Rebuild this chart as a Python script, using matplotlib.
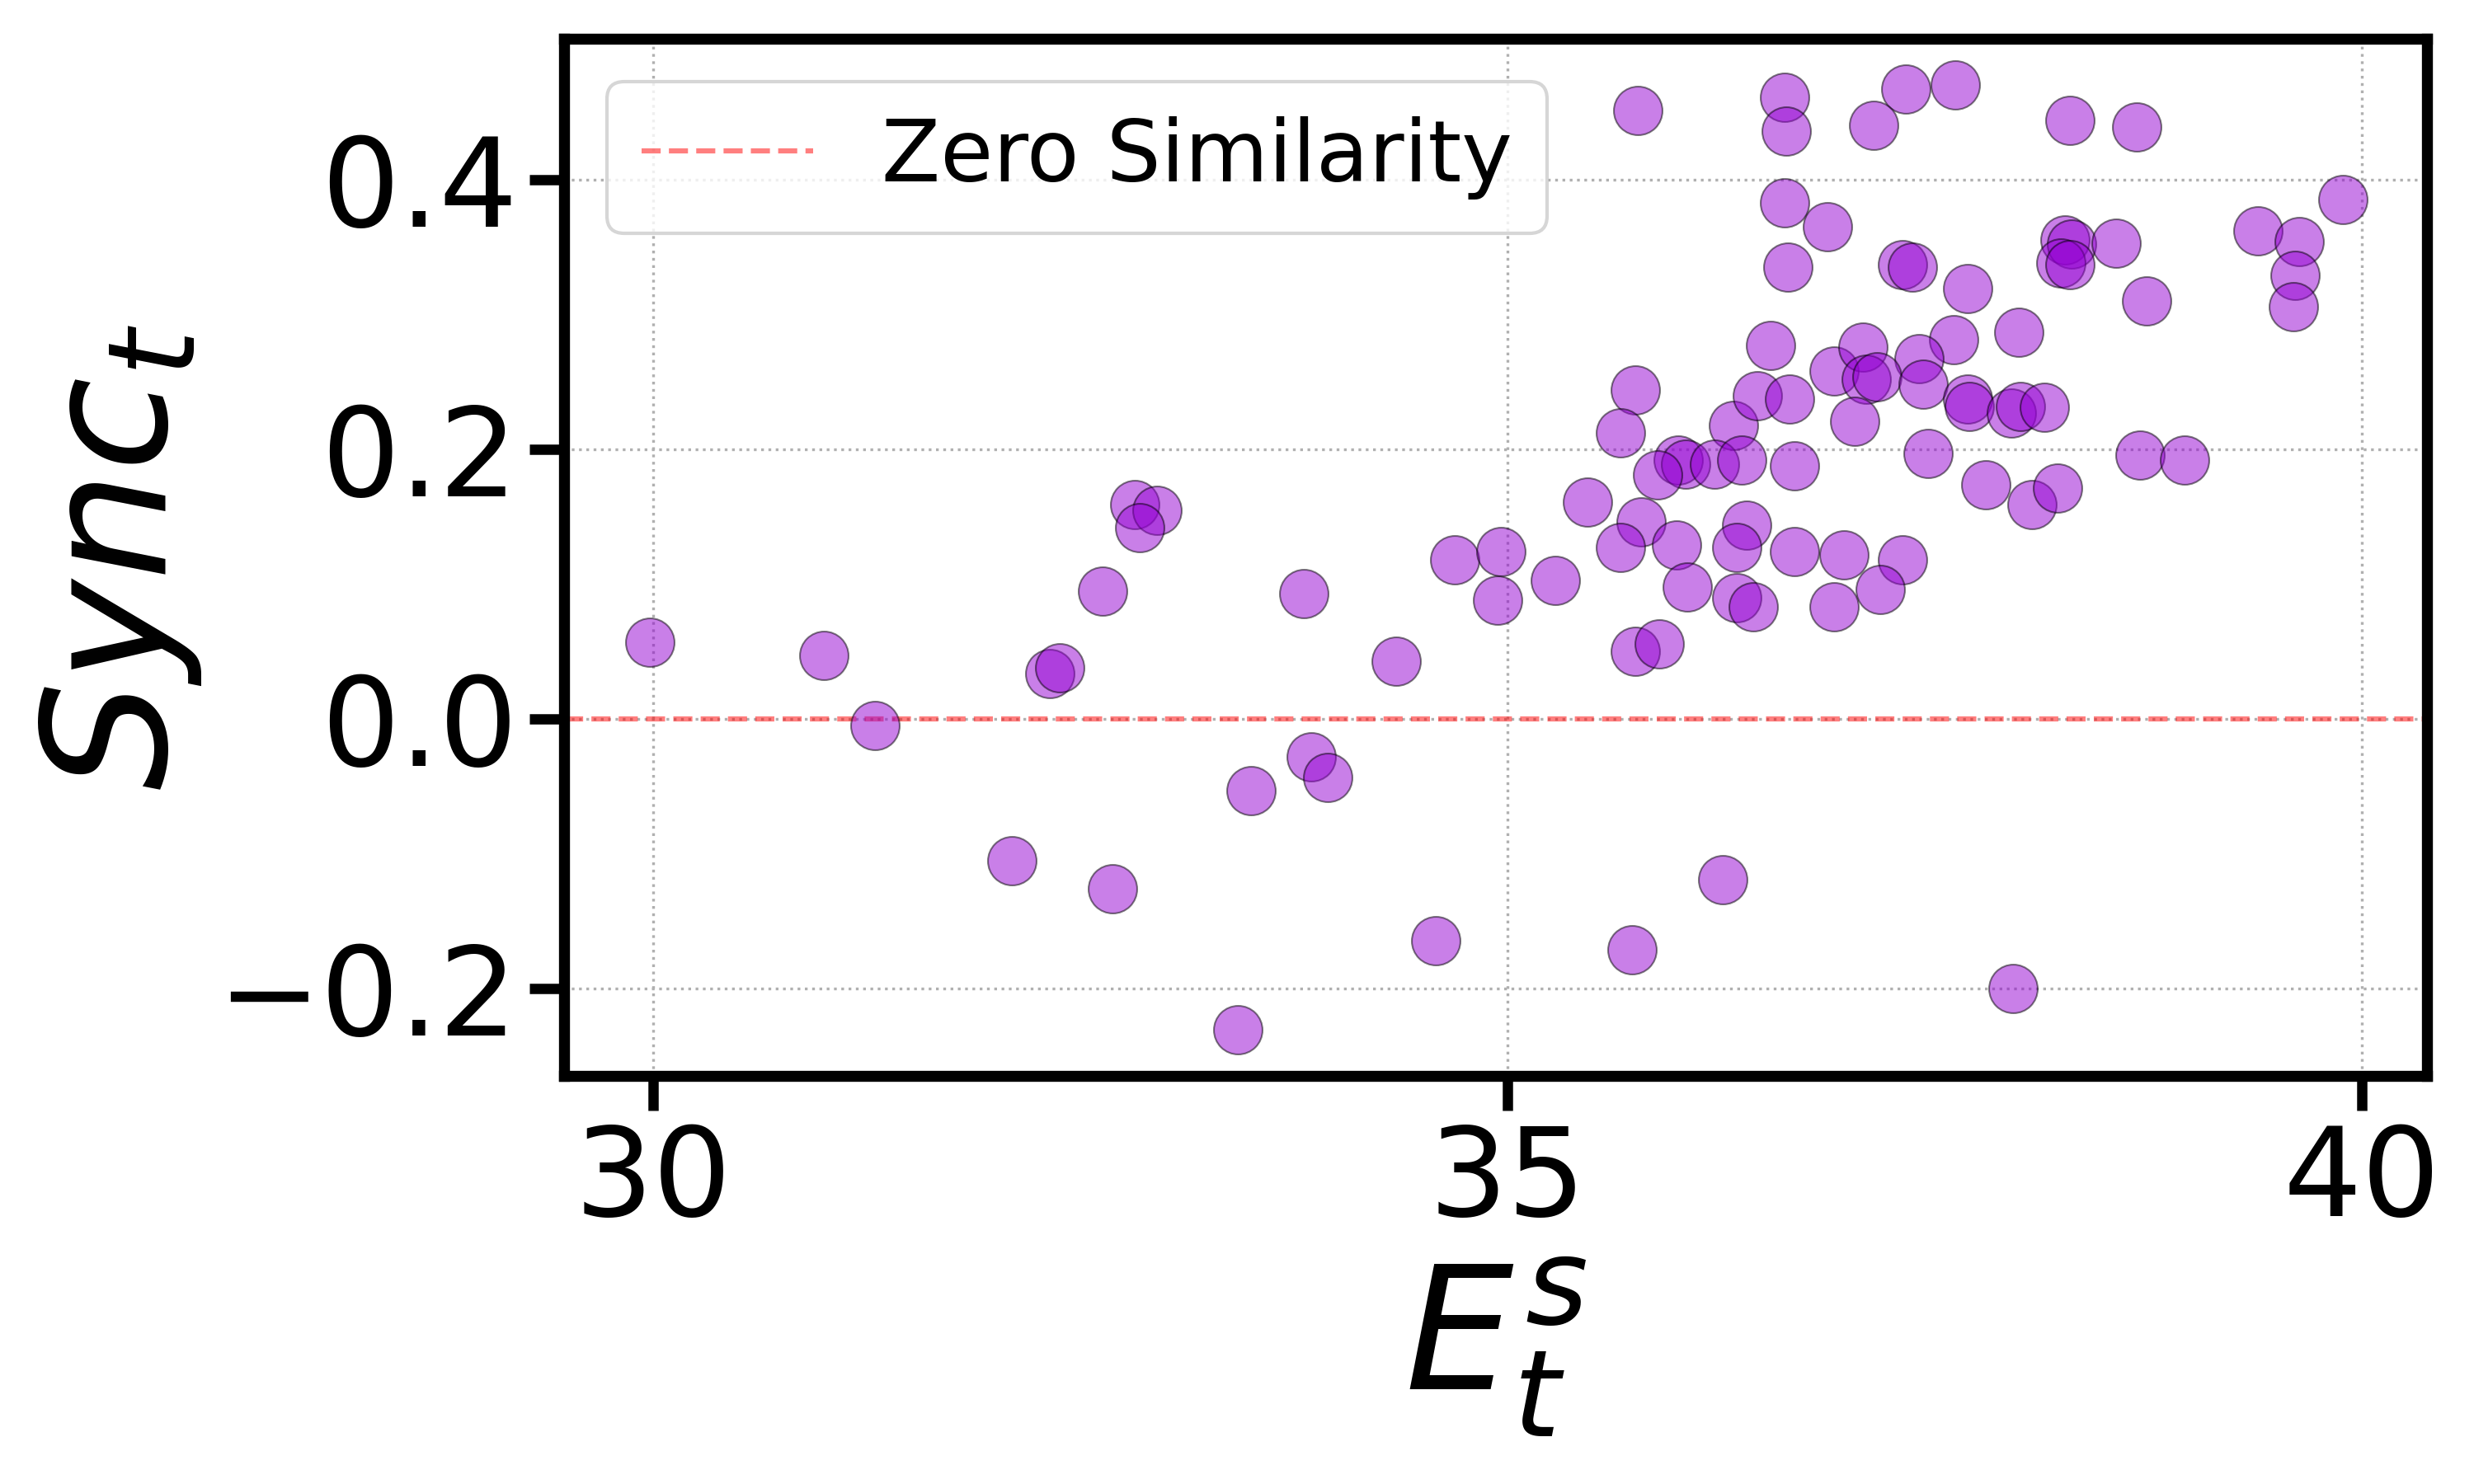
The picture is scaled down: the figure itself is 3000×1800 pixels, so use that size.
import matplotlib
matplotlib.use("Agg")
import matplotlib.pyplot as plt

# values
es = [29.98, 31.00, 31.30, 32.82, 32.95, 32.85, 32.63, 32.32, 32.38, 32.10,
      32.69, 33.50, 33.42, 33.81, 34.35, 33.85, 33.95, 34.58, 35.73, 36.26,
      34.69, 34.96, 34.94, 35.28, 35.47, 35.78, 36.40, 35.66, 35.99, 36.34,
      36.68, 36.05, 36.34, 36.44, 35.75, 35.89, 35.76, 36.62, 36.63, 36.62,
      36.87, 36.64, 36.54, 35.75, 35.66, 36.32, 36.46, 36.65, 36.91, 36.00,
      36.04, 35.88, 36.21, 36.37, 36.68, 37.33, 37.62, 37.14, 38.29, 38.68,
      39.89, 39.39, 39.63, 39.61, 39.60, 38.26, 38.30, 38.24, 38.29, 38.56,
      38.74, 37.31, 37.37, 37.69, 37.99, 37.08, 37.61, 37.41, 37.10, 37.16,
      37.43, 37.03, 37.69, 37.70, 37.95, 38.00, 38.14, 37.46, 37.80, 38.07,
      38.22, 38.70, 38.96, 36.97, 37.31, 37.18, 36.91, 37.96]
sync = [0.057, 0.047, -0.005, 0.159, 0.155, 0.142, 0.095, 0.034, 0.038, -0.105,
        -0.126, -0.053, -0.230, 0.093, 0.043, -0.028, -0.043, -0.164, -0.171, -0.119,
        0.118, 0.124, 0.088, 0.103, 0.161, 0.146, 0.144, 0.127, 0.129, 0.127,
        0.124, 0.098, 0.090, 0.083, 0.050, 0.056, 0.451, 0.461, 0.436, 0.383,
        0.365, 0.335, 0.277, 0.244, 0.212, 0.218, 0.240, 0.237, 0.258, 0.192,
        0.189, 0.181, 0.189, 0.192, 0.188, 0.467, 0.470, 0.440, 0.444, 0.439,
        0.385, 0.362, 0.354, 0.329, 0.306, 0.355, 0.352, 0.338, 0.337, 0.353,
        0.310, 0.337, 0.335, 0.319, 0.287, 0.276, 0.281, 0.267, 0.252, 0.254,
        0.248, 0.221, 0.237, 0.232, 0.227, 0.232, 0.231, 0.197, 0.174, 0.159,
        0.171, 0.196, 0.192, 0.122, 0.118, 0.096, 0.083, -0.200]
xticks = [30, 35, 40]
yticks = [-0.2, 0.0, 0.2, 0.4]

fig, ax = plt.subplots(figsize=(10, 6), dpi=300)
fig.subplots_adjust(left=0.228, right=0.981, bottom=0.275, top=0.974)

ax.scatter(es, sync, s=200, color='darkviolet', alpha=0.5,
           edgecolors='k', linewidths=0.5, zorder=3)
ax.axhline(0, color='red', linestyle='--', linewidth=1.5, alpha=0.5,
           label='Zero Similarity', zorder=2)

ax.set_xlim(29.48, 40.38)
ax.set_ylim(-0.2645, 0.5045)
ax.set_xticks(xticks)
ax.set_yticks(yticks)
ax.grid(True, linestyle=':', linewidth=0.8, color='#b0b0b0', zorder=0)

ax.set_xlabel('$E_t^s$', fontsize=50)
ax.set_ylabel('$Sync_t$', fontsize=50)
ax.tick_params(axis='both', labelsize=36, length=10, width=3)
for sp in ax.spines.values():
    sp.set_linewidth(3.2)

ax.legend(loc='upper left', fontsize=25)

fig.savefig('out.png', dpi=300)
